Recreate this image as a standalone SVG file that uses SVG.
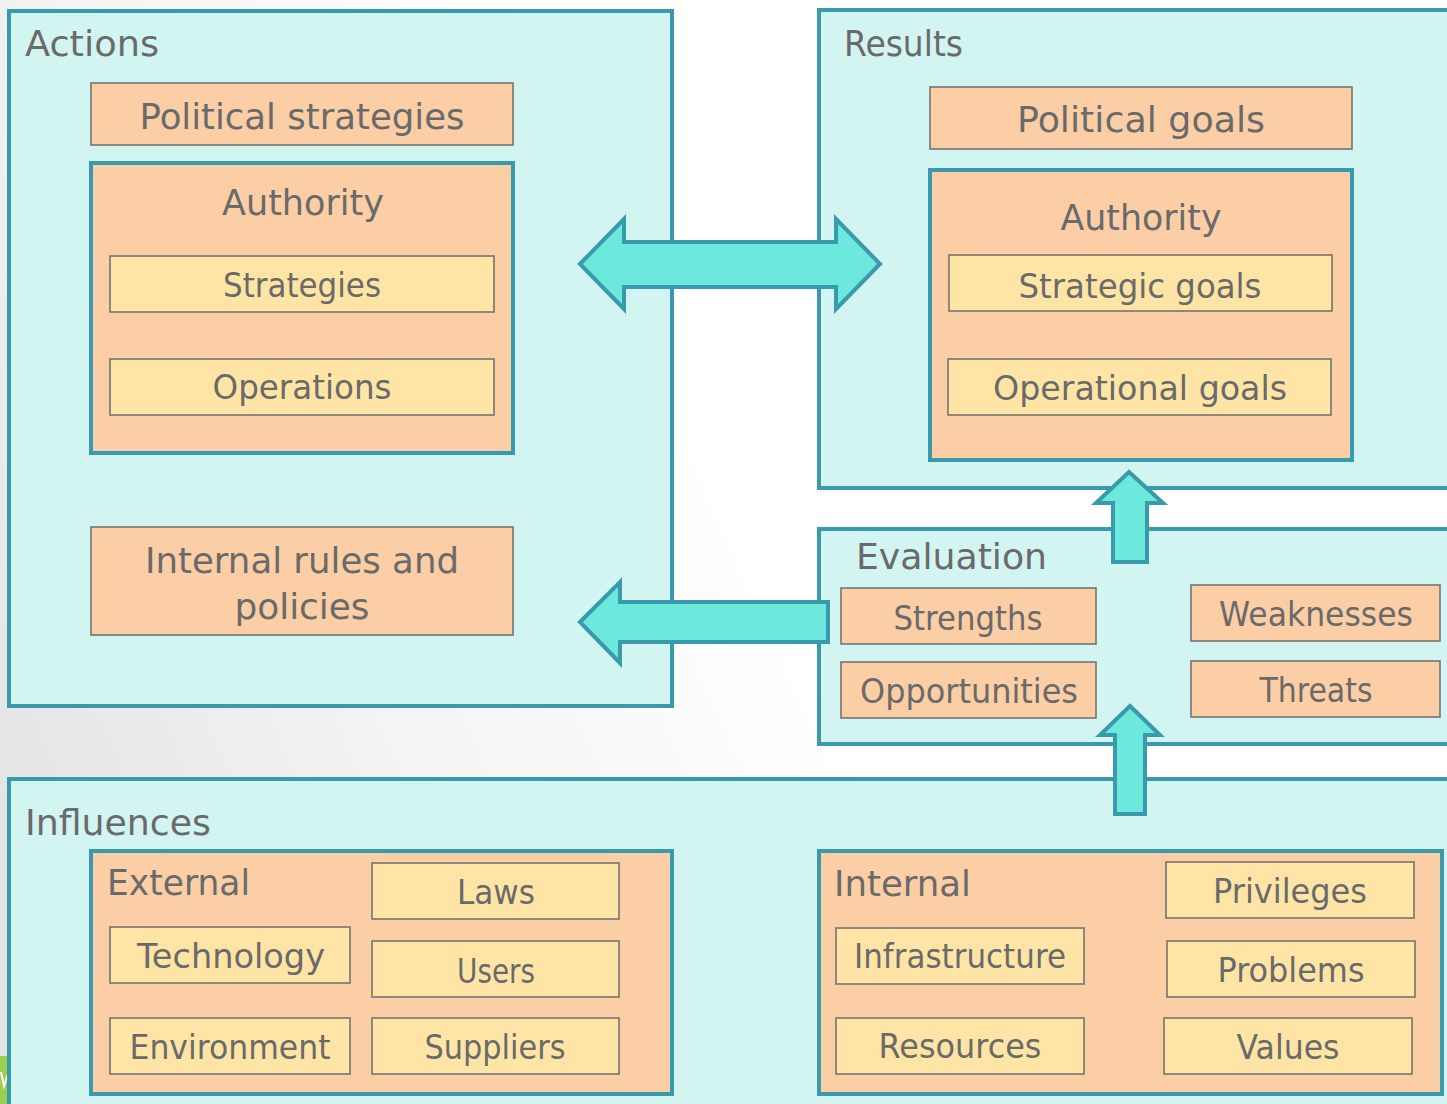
<svg xmlns="http://www.w3.org/2000/svg" width="1447" height="1104" viewBox="0 0 1447 1104">
  <defs>
    <linearGradient id="bg" gradientUnits="userSpaceOnUse" x1="0" y1="900" x2="760" y2="560">
      <stop offset="0" stop-color="#e3e3e3"/>
      <stop offset="0.5" stop-color="#f3f3f3"/>
      <stop offset="1" stop-color="#ffffff"/>
    </linearGradient>
    <style>
      .panel { fill: #d3f5f1; stroke: #3a9aad; stroke-width: 4; }
      .group { fill: #fbcea6; stroke: #3a9aad; stroke-width: 4; }
      .peach { fill: #fbcea6; stroke: #747474; stroke-width: 1.6; }
      .item { fill: #ffe5a5; stroke: #747474; stroke-width: 1.6; }
      .arrow { fill: #6de8dc; stroke: #3a9aad; stroke-width: 4; stroke-linejoin: miter; }
      text { font-family: "DejaVu Sans", "Liberation Sans", sans-serif; fill: #6a6a6a; }
      .big { font-size: 36px; }
      .mid { font-size: 33px; }
      .c { text-anchor: middle; }
    </style>
  </defs>

  <!-- page background -->
  <rect x="0" y="0" width="1447" height="1104" fill="url(#bg)"/>
  <g id="corner-mark">
    <rect x="0" y="1056" width="9" height="48" fill="#9ccf4f"/>
    <polyline points="1,1072 4,1086 8,1074" fill="none" stroke="#ffffff" stroke-width="2"/>
  </g>

  <!-- Actions -->
  <g id="actions">
    <rect class="panel" x="9" y="11" width="663" height="695"/>
    <text class="big" x="25" y="56" textLength="134" lengthAdjust="spacingAndGlyphs">Actions</text>
    <rect class="peach" x="91" y="83" width="422" height="62"/>
    <text class="big c" x="302" y="129" textLength="325" lengthAdjust="spacingAndGlyphs">Political strategies</text>
    <g id="actions-authority">
      <rect class="group" x="91" y="163" width="422" height="290"/>
      <text class="big c" x="303" y="215" textLength="162" lengthAdjust="spacingAndGlyphs">Authority</text>
      <rect class="item" x="110" y="256" width="384" height="56"/>
      <text class="mid c" x="302" y="297" textLength="158" lengthAdjust="spacingAndGlyphs">Strategies</text>
      <rect class="item" x="110" y="359" width="384" height="56"/>
      <text class="mid c" x="302" y="399" textLength="179" lengthAdjust="spacingAndGlyphs">Operations</text>
    </g>
    <rect class="peach" x="91" y="527" width="422" height="108"/>
    <text class="big c" x="302" y="573" textLength="314" lengthAdjust="spacingAndGlyphs">Internal rules and</text>
    <text class="big c" x="302" y="619" textLength="135" lengthAdjust="spacingAndGlyphs">policies</text>
  </g>

  <!-- Results -->
  <g id="results">
    <rect class="panel" x="819" y="10" width="640" height="478"/>
    <text class="big" x="844" y="56" textLength="119" lengthAdjust="spacingAndGlyphs">Results</text>
    <rect class="peach" x="930" y="87" width="422" height="62"/>
    <text class="big c" x="1141" y="132" textLength="248" lengthAdjust="spacingAndGlyphs">Political goals</text>
    <g id="results-authority">
      <rect class="group" x="930" y="170" width="422" height="290"/>
      <text class="big c" x="1141" y="230" textLength="161" lengthAdjust="spacingAndGlyphs">Authority</text>
      <rect class="item" x="949" y="255" width="383" height="56"/>
      <text class="mid c" x="1140" y="298" textLength="243" lengthAdjust="spacingAndGlyphs">Strategic goals</text>
      <rect class="item" x="948" y="359" width="383" height="56"/>
      <text class="mid c" x="1140" y="400" textLength="294" lengthAdjust="spacingAndGlyphs">Operational goals</text>
    </g>
  </g>

  <!-- Evaluation -->
  <g id="evaluation">
    <rect class="panel" x="819" y="529" width="640" height="215"/>
    <text class="big" x="856" y="569" textLength="191" lengthAdjust="spacingAndGlyphs">Evaluation</text>
    <rect class="peach" x="841" y="588" width="255" height="56"/>
    <text class="mid c" x="968" y="630" textLength="149" lengthAdjust="spacingAndGlyphs">Strengths</text>
    <rect class="peach" x="841" y="662" width="255" height="56"/>
    <text class="mid c" x="969" y="703" textLength="218" lengthAdjust="spacingAndGlyphs">Opportunities</text>
    <rect class="peach" x="1191" y="585" width="249" height="56"/>
    <text class="mid c" x="1316" y="626" textLength="194" lengthAdjust="spacingAndGlyphs">Weaknesses</text>
    <rect class="peach" x="1191" y="661" width="249" height="56"/>
    <text class="mid c" x="1316" y="702" textLength="113" lengthAdjust="spacingAndGlyphs">Threats</text>
  </g>

  <!-- Influences -->
  <g id="influences">
    <rect class="panel" x="9" y="779" width="1450" height="340"/>
    <text class="big" x="25" y="835" textLength="186" lengthAdjust="spacingAndGlyphs">Influences</text>
    <g id="external">
      <rect class="group" x="91" y="851" width="581" height="243"/>
      <text class="big" x="107" y="895" textLength="143" lengthAdjust="spacingAndGlyphs">External</text>
      <rect class="item" x="372" y="863" width="247" height="56"/>
      <text class="mid c" x="496" y="904" textLength="78" lengthAdjust="spacingAndGlyphs">Laws</text>
      <rect class="item" x="110" y="927" width="240" height="56"/>
      <text class="mid c" x="231" y="968" textLength="188" lengthAdjust="spacingAndGlyphs">Technology</text>
      <rect class="item" x="372" y="941" width="247" height="56"/>
      <text class="mid c" x="496" y="983" textLength="78" lengthAdjust="spacingAndGlyphs">Users</text>
      <rect class="item" x="110" y="1018" width="240" height="56"/>
      <text class="mid c" x="230" y="1059" textLength="201" lengthAdjust="spacingAndGlyphs">Environment</text>
      <rect class="item" x="372" y="1018" width="247" height="56"/>
      <text class="mid c" x="495" y="1059" textLength="141" lengthAdjust="spacingAndGlyphs">Suppliers</text>
    </g>
    <g id="internal">
      <rect class="group" x="819" y="851" width="623" height="243"/>
      <text class="big" x="834" y="896" textLength="137" lengthAdjust="spacingAndGlyphs">Internal</text>
      <rect class="item" x="1166" y="862" width="248" height="56"/>
      <text class="mid c" x="1290" y="903" textLength="154" lengthAdjust="spacingAndGlyphs">Privileges</text>
      <rect class="item" x="836" y="928" width="248" height="56"/>
      <text class="mid c" x="960" y="968" textLength="212" lengthAdjust="spacingAndGlyphs">Infrastructure</text>
      <rect class="item" x="1167" y="941" width="248" height="56"/>
      <text class="mid c" x="1291" y="982" textLength="147" lengthAdjust="spacingAndGlyphs">Problems</text>
      <rect class="item" x="836" y="1018" width="248" height="56"/>
      <text class="mid c" x="960" y="1058" textLength="163" lengthAdjust="spacingAndGlyphs">Resources</text>
      <rect class="item" x="1164" y="1018" width="248" height="56"/>
      <text class="mid c" x="1288" y="1059" textLength="103" lengthAdjust="spacingAndGlyphs">Values</text>
    </g>
  </g>

  <!-- connectors: block arrows between panels -->
  <g id="connectors">
    <polygon class="arrow" points="580,264 624,219 624,242 836,242 836,219 880,264 836,309 836,287 624,287 624,309"/>
    <polygon class="arrow" points="580,622 620,582 620,602 828,602 828,642 620,642 620,663"/>
    <polygon class="arrow" points="1129,472 1163,503 1147,503 1147,562 1113,562 1113,503 1096,503"/>
    <polygon class="arrow" points="1130,706 1160,735 1145,735 1145,814 1115,814 1115,735 1100,735"/>
  </g>
</svg>
